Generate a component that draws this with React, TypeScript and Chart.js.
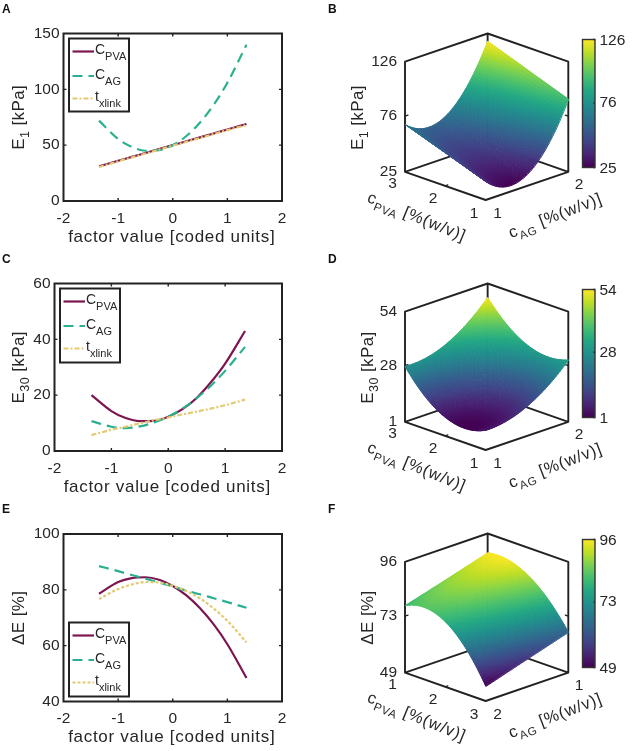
import React, { useEffect, useRef } from "react";
import { Chart, registerables } from "chart.js";

Chart.register(...registerables);

// ---------- data ----------
const factorX = [-1.35, -1, -0.75, -0.5, -0.25, 0, 0.25, 0.5, 0.75, 1, 1.35];

const e1Pva = [31, 36, 39.5, 43, 46.5, 50, 53.5, 57, 60.5, 64, 69];
const e1Ag = [72, 55.5, 48.4, 45, 45.6, 50, 58.2, 70.3, 86.2, 105.9, 140];
const e1Xlink = [30.5, 35.5, 39, 42.5, 46, 49.5, 53, 56.5, 60, 63.5, 68];

const e30Pva = [20, 14.3, 11.8, 10.7, 10.8, 12.3, 15, 19, 24.6, 31.3, 43];
const e30Ag = [10.7, 8.7, 8.2, 8.8, 10.2, 12.3, 15.2, 18.9, 23.4, 28.7, 37.3];
const e30Xlink = [5.7, 7.6, 8.7, 9.9, 11, 12, 13.1, 14.1, 15.2, 16.4, 18.4];

const dePva = [78.6, 82.8, 84.2, 84.5, 83.6, 81.4, 78, 73.4, 67.6, 60.5, 48.4];
const deAg = [88.5, 86.7, 85.3, 84, 82.6, 81.2, 79.7, 78.4, 77, 75.6, 73.6];
const deXlink = [76.7, 80.3, 81.9, 82.8, 82.6, 81.4, 79.6, 76.9, 73.3, 68.9, 61.2];

const xTicks = [-2, -1, 0, 1, 2];
const e1YTicks = [0, 50, 100, 150];
const e30YTicks = [0, 20, 40, 60];
const deYTicks = [40, 60, 80, 100];

// surface heights: rows = front corner to left corner, columns = front corner to right corner
const e1Surface = [
  [42, 35.6, 91.7],
  [55.3, 49.7, 105.3],
  [68.4, 63.8, 119],
];
const e30Surface = [
  [10.5, 15.3, 30.8],
  [9.9, 14.5, 30.9],
  [27.7, 31.7, 47.3],
];
const deSurface = [
  [55.3, 60.8, 66.2],
  [76.6, 80.5, 84.3],
  [77.4, 82.5, 87.8],
];

const e1ZTicks = [25, 76, 126];
const e30ZTicks = [1, 28, 54];
const deZTicks = [49, 73, 96];
const pvaTicksAB = ["3", "2", "1"];
const agTicksAB = ["1", "2"];
const pvaTicksF = ["1", "2", "3"];
const agTicksF = ["2", "1"];

const viridis = [
  [68, 1, 84], [72, 35, 116], [64, 67, 135], [52, 94, 141], [41, 120, 142],
  [32, 144, 140], [34, 167, 132], [68, 190, 112], [121, 209, 81], [189, 222, 38], [253, 231, 37],
];

// ---------- styles ----------
const FONT = '"Liberation Sans", Arial, sans-serif';
const INK = "#262626";
const PVA_COLOR = "#7d1650";
const AG_COLOR = "#2bb08f";
const XLINK_COLOR = "#e3c96f";
const AG_DASH = [10, 6];

type Part = { t: string; sub?: boolean };

function drawRich(
  ctx: any, parts: Part[], cx: number, cy: number, angle: number, size: number, subSize: number,
  align = "center", spacing = 0, subDrop = 0.3,
) {
  ctx.save();
  ctx.translate(cx, cy);
  ctx.rotate(angle);
  ctx.textBaseline = "alphabetic";
  ctx.textAlign = "left";
  ctx.fillStyle = INK;
  ctx.letterSpacing = `${spacing}px`;
  let total = 0;
  const widths = parts.map((p) => {
    ctx.font = `${p.sub ? subSize : size}px ${FONT}`;
    const w = ctx.measureText(p.t).width;
    total += w;
    return w;
  });
  let x = align === "center" ? -total / 2 : 0;
  const base = size * 0.36;
  parts.forEach((p, i) => {
    ctx.font = `${p.sub ? subSize : size}px ${FONT}`;
    ctx.fillText(p.t, x, base + (p.sub ? size * subDrop : 0));
    x += widths[i];
  });
  ctx.restore();
}

function panelLetter(ctx: any, letter: string, x: number) {
  ctx.save();
  ctx.font = `bold 12px ${FONT}`;
  ctx.fillStyle = "#111";
  ctx.textAlign = "left";
  ctx.textBaseline = "alphabetic";
  ctx.fillText(letter, x, 13);
  ctx.restore();
}

// ---------- line panels ----------
type LinePanel = {
  letter: string;
  pva: number[];
  ag: number[];
  xlink: number[];
  xlinkDash: number[];
  yMin: number;
  yMax: number;
  yTicks: number[];
  yTitle: Part[];
  area: { left: number; top: number; bottom: number };
  legend: { left: number; top: number; right: number; bottom: number };
};

const linePanels: LinePanel[] = [
  {
    letter: "A", pva: e1Pva, ag: e1Ag, xlink: e1Xlink, xlinkDash: [5, 2, 2, 2],
    yMin: 0, yMax: 150, yTicks: e1YTicks,
    yTitle: [{ t: "E" }, { t: "1", sub: true }, { t: " [kPa]" }],
    area: { left: 63.5, top: 33.5, bottom: 201 },
    legend: { left: 69, top: 38.5, right: 129, bottom: 111.5 },
  },
  {
    letter: "C", pva: e30Pva, ag: e30Ag, xlink: e30Xlink, xlinkDash: [5, 2, 2, 2],
    yMin: 0, yMax: 60, yTicks: e30YTicks,
    yTitle: [{ t: "E" }, { t: "30", sub: true }, { t: " [kPa]" }],
    area: { left: 54.5, top: 33.5, bottom: 201 },
    legend: { left: 60, top: 38.5, right: 120, bottom: 112.5 },
  },
  {
    letter: "E", pva: dePva, ag: deAg, xlink: deXlink, xlinkDash: [3, 2],
    yMin: 40, yMax: 100, yTicks: deYTicks,
    yTitle: [{ t: "\u0394E [%]" }],
    area: { left: 63.5, top: 34, bottom: 201.5 },
    legend: { left: 69, top: 122.5, right: 129, bottom: 196.5 },
  },
];

function lineChart(canvas: HTMLCanvasElement, p: LinePanel) {
  const series = (ys: number[]) => ys.map((y, i) => ({ x: factorX[i], y }));
  const framePlugin = {
    id: "frame",
    afterDatasetsDraw(chart: any) {
      const { ctx, chartArea: a, scales } = chart;
      ctx.save();
      ctx.strokeStyle = "#222";
      ctx.lineWidth = 2;
      ctx.strokeRect(a.left, a.top, a.right - a.left, a.bottom - a.top);
      ctx.lineWidth = 1.4;
      ctx.beginPath();
      xTicks.slice(1, -1).forEach((t) => {
        const x = scales.x.getPixelForValue(t);
        ctx.moveTo(x, a.bottom); ctx.lineTo(x, a.bottom - 3);
        ctx.moveTo(x, a.top); ctx.lineTo(x, a.top + 3);
      });
      p.yTicks.slice(1, -1).forEach((t) => {
        const y = scales.y.getPixelForValue(t);
        ctx.moveTo(a.left, y); ctx.lineTo(a.left + 3, y);
        ctx.moveTo(a.right, y); ctx.lineTo(a.right - 3, y);
      });
      ctx.stroke();

      // legend
      const l = p.legend;
      ctx.fillStyle = "#fff";
      ctx.fillRect(l.left, l.top, l.right - l.left, l.bottom - l.top);
      ctx.lineWidth = 2;
      ctx.strokeRect(l.left, l.top, l.right - l.left, l.bottom - l.top);
      const rows: [string, number[], Part[], number][] = [
        [PVA_COLOR, [], [{ t: "C" }, { t: "PVA", sub: true }], 13],
        [AG_COLOR, AG_DASH, [{ t: "C" }, { t: "AG", sub: true }], 37.5],
        [XLINK_COLOR, p.xlinkDash, [{ t: "t" }, { t: "xlink", sub: true }], 60],
      ];
      rows.forEach(([color, dash, text, dy]) => {
        const y = l.top + dy;
        ctx.save();
        ctx.strokeStyle = color;
        ctx.lineWidth = 2.2;
        ctx.setLineDash(dash);
        ctx.beginPath();
        ctx.moveTo(l.left + 3.5, y);
        ctx.lineTo(l.left + 25, y);
        ctx.stroke();
        ctx.restore();
        drawRich(ctx, text, l.left + 26, y - 2.5, 0, 14, 11, "left", 0, 0.45);
      });
      ctx.restore();

      drawRich(ctx, p.yTitle, 18, (a.top + a.bottom) / 2, -Math.PI / 2, 17, 12.5, "center", 0.4);
      drawRich(ctx, [{ t: "factor value [coded units]" }], (a.left + a.right) / 2 - 1, 235.6, 0, 17, 12, "center", 0.7);
      panelLetter(ctx, p.letter, 2);
    },
  };
  return new Chart(canvas, {
    type: "line",
    data: {
      datasets: [
        { label: "cPVA", data: series(p.pva), borderColor: PVA_COLOR, borderWidth: 2.2, pointRadius: 0, cubicInterpolationMode: "monotone", order: 3 },
        { label: "cAG", data: series(p.ag), borderColor: AG_COLOR, borderWidth: 2.2, borderDash: AG_DASH, pointRadius: 0, cubicInterpolationMode: "monotone", order: 2 },
        { label: "txlink", data: series(p.xlink), borderColor: XLINK_COLOR, borderWidth: 2.2, borderDash: p.xlinkDash, pointRadius: 0, cubicInterpolationMode: "monotone", order: 1 },
      ],
    },
    options: {
      animation: false,
      responsive: false,
      layout: { padding: { left: 0, top: p.area.top, right: 319 - 282, bottom: 0 } },
      plugins: { legend: { display: false }, tooltip: { enabled: false } },
      scales: {
        x: {
          type: "linear", min: -2, max: 2,
          grid: { display: false, drawTicks: false },
          border: { display: false },
          afterFit: (s: any) => { s.height = 250 - p.area.bottom; },
          afterBuildTicks: (s: any) => { s.ticks = xTicks.map((value) => ({ value })); },
          ticks: { color: INK, font: { family: FONT, size: 15.5 }, padding: 8, maxRotation: 0, autoSkip: false },
        },
        y: {
          type: "linear", min: p.yMin, max: p.yMax,
          grid: { display: false, drawTicks: false },
          border: { display: false },
          afterFit: (s: any) => { s.width = p.area.left; },
          afterBuildTicks: (s: any) => { s.ticks = p.yTicks.map((value) => ({ value })); },
          ticks: { color: INK, font: { family: FONT, size: 15.5 }, padding: 4, autoSkip: false },
        },
      },
    },
    plugins: [framePlugin],
  } as any);
}

// ---------- surface panels ----------
const SKEW = 0.976;
const FLOOR = 0.256;
const SUB = 60;

type SurfacePanel = {
  letter: string;
  grid: number[][];
  zTicks: number[];
  pvaTicks: string[];
  agTicks: string[];
  zTitle: Part[];
  zTitleX: number;
  top: number;
  bottom: number;
};

const surfacePanels: SurfacePanel[] = [
  {
    letter: "B", grid: e1Surface, zTicks: e1ZTicks, pvaTicks: pvaTicksAB, agTicks: agTicksAB,
    zTitle: [{ t: "E" }, { t: "1", sub: true }, { t: " [kPa]" }], zTitleX: 38, top: 33.5, bottom: 200,
  },
  {
    letter: "D", grid: e30Surface, zTicks: e30ZTicks, pvaTicks: pvaTicksAB, agTicks: agTicksAB,
    zTitle: [{ t: "E" }, { t: "30", sub: true }, { t: " [kPa]" }], zTitleX: 47.5, top: 33.5, bottom: 200,
  },
  {
    letter: "F", grid: deSurface, zTicks: deZTicks, pvaTicks: pvaTicksF, agTicks: agTicksF,
    zTitle: [{ t: "\u0394E [%]" }], zTitleX: 47.5, top: 33.5, bottom: 201,
  },
];

function viridisColor(t: number) {
  const c = Math.max(0, Math.min(1, t)) * (viridis.length - 1);
  const i = Math.min(viridis.length - 2, Math.floor(c));
  const f = c - i;
  const m = (k: number) => Math.round(viridis[i][k] + (viridis[i + 1][k] - viridis[i][k]) * f);
  return `rgb(${m(0)},${m(1)},${m(2)})`;
}

function surfaceChart(canvas: HTMLCanvasElement, p: SurfacePanel) {
  const zMin = p.zTicks[0];
  const zMax = p.zTicks[2];
  const norm = (v: number) => (v - zMin) / (zMax - zMin);
  const projectX = (u: number, v: number) => v - SKEW * u;
  const projectY = (u: number, v: number, z: number) => (u + v) * FLOOR + z;
  const basis = (t: number) => [2 * (t - 0.5) * (t - 1), -4 * t * (t - 1), 2 * t * (t - 0.5)];
  const height = (u: number, v: number) => {
    const bu = basis(u);
    const bv = basis(v);
    let s = 0;
    for (let i = 0; i < 3; i++) for (let j = 0; j < 3; j++) s += bu[i] * bv[j] * p.grid[i][j];
    return s;
  };

  // the colours run over the range of the surface itself
  let hMin = Infinity;
  let hMax = -Infinity;
  for (let i = 0; i <= SUB; i++) {
    for (let j = 0; j <= SUB; j++) {
      const h = height(i / SUB, j / SUB);
      hMin = Math.min(hMin, h);
      hMax = Math.max(hMax, h);
    }
  }

  const cloud: { x: number; y: number }[] = [];
  p.grid.forEach((row, i) => row.forEach((val, j) => {
    cloud.push({ x: projectX(i / 2, j / 2), y: projectY(i / 2, j / 2, norm(val)) });
  }));

  const plugin = {
    id: "surface",
    beforeDatasetsDraw(chart: any) {
      const { ctx, scales } = chart;
      const P = (u: number, v: number, z: number): [number, number] => [
        scales.x.getPixelForValue(projectX(u, v)),
        scales.y.getPixelForValue(projectY(u, v, z)),
      ];
      const seg = (a: [number, number], b: [number, number]) => { ctx.moveTo(a[0], a[1]); ctx.lineTo(b[0], b[1]); };

      ctx.save();
      ctx.strokeStyle = "#222";
      ctx.lineWidth = 1.9;
      ctx.lineCap = "round";
      ctx.beginPath();
      seg(P(1, 0, 0), P(0, 0, 0)); seg(P(0, 0, 0), P(0, 1, 0));
      seg(P(1, 0, 0), P(1, 1, 0)); seg(P(0, 1, 0), P(1, 1, 0));
      seg(P(1, 0, 0), P(1, 0, 1)); seg(P(0, 1, 0), P(0, 1, 1)); seg(P(1, 1, 0), P(1, 1, 1));
      seg(P(1, 0, 1), P(1, 1, 1)); seg(P(0, 1, 1), P(1, 1, 1));
      ctx.stroke();
      ctx.lineWidth = 1.3;
      ctx.beginPath();
      const zMid = norm(p.zTicks[1]);
      const lz = P(1, 0, zMid);
      seg(lz, [lz[0] + 3, lz[1] - 1]);
      const rz = P(0, 1, zMid);
      seg(rz, [rz[0] - 3, rz[1] - 1]);
      const m1 = P(0.5, 0, 0);
      seg(m1, [m1[0] + 2.5, m1[1] - 1]);
      ctx.stroke();

      // surface, painted from the back corner to the front corner
      ctx.lineJoin = "round";
      ctx.lineWidth = 1;
      for (let i = SUB - 1; i >= 0; i--) {
        for (let j = SUB - 1; j >= 0; j--) {
          const u0 = i / SUB, u1 = (i + 1) / SUB, v0 = j / SUB, v1 = (j + 1) / SUB;
          const a = P(u0, v0, norm(height(u0, v0)));
          const b = P(u1, v0, norm(height(u1, v0)));
          const c = P(u1, v1, norm(height(u1, v1)));
          const d = P(u0, v1, norm(height(u0, v1)));
          const col = viridisColor((height((u0 + u1) / 2, (v0 + v1) / 2) - hMin) / (hMax - hMin));
          ctx.fillStyle = col;
          ctx.strokeStyle = col;
          ctx.beginPath();
          ctx.moveTo(a[0], a[1]); ctx.lineTo(b[0], b[1]); ctx.lineTo(c[0], c[1]); ctx.lineTo(d[0], d[1]);
          ctx.closePath();
          ctx.fill();
          ctx.stroke();
        }
      }
      ctx.restore();
    },
    afterDatasetsDraw(chart: any) {
      const { ctx, scales } = chart;
      const leftX = scales.x.getPixelForValue(-SKEW);
      // z ticks
      ctx.save();
      ctx.font = `15.5px ${FONT}`;
      ctx.fillStyle = INK;
      ctx.textAlign = "right";
      ctx.textBaseline = "middle";
      p.zTicks.forEach((t) => {
        ctx.fillText(String(t), leftX - 8, scales.y.getPixelForValue(FLOOR + norm(t)));
      });
      // floor ticks
      ctx.textAlign = "center";
      const pvaPos = [[73.5, 184], [114, 198.5], [155, 213.5]];
      p.pvaTicks.forEach((t, i) => ctx.fillText(t, pvaPos[i][0], pvaPos[i][1] + (p.letter === "F" ? 1 : 0)));
      const agPos = [[178.5, 213.5], [260, 184.5]];
      p.agTicks.forEach((t, i) => ctx.fillText(t, agPos[i][0], agPos[i][1] + (p.letter === "F" ? 1 : 0)));

      // colour bar
      const bl = 263.5, bt = 39.5, bw = 12.5, bh = 128;
      const g = ctx.createLinearGradient(0, bt + bh, 0, bt);
      viridis.forEach((c, i) => g.addColorStop(i / (viridis.length - 1), `rgb(${c[0]},${c[1]},${c[2]})`));
      ctx.fillStyle = g;
      ctx.fillRect(bl, bt, bw, bh);
      ctx.strokeStyle = "#333";
      ctx.lineWidth = 1.4;
      ctx.strokeRect(bl, bt, bw, bh);
      ctx.fillStyle = INK;
      ctx.textAlign = "left";
      p.zTicks.forEach((t) => {
        const y = bt + bh * (1 - norm(t));
        ctx.fillText(String(t), bl + bw + 4.5, y + (t === p.zTicks[1] ? 0 : 1));
        ctx.beginPath();
        ctx.moveTo(bl + bw, y);
        ctx.lineTo(bl + bw - 2, y);
        ctx.stroke();
      });
      ctx.restore();

      drawRich(ctx, p.zTitle, p.zTitleX, 117.5, -Math.PI / 2, 17, 12.5, "center", 0.4);
      drawRich(ctx, [{ t: "c" }, { t: "PVA", sub: true }, { t: " [%(w/v)]" }], 98, 216, 0.39, 16.5, 11.5, "center", 0.8);
      drawRich(ctx, [{ t: "c" }, { t: "AG", sub: true }, { t: " [%(w/v)]" }], 236, 215, -0.365, 16.5, 11.5, "center", 0.8);
      panelLetter(ctx, p.letter, 9);
    },
  };

  return new Chart(canvas, {
    type: "scatter",
    data: { datasets: [{ label: p.letter, data: cloud, pointRadius: 0, showLine: false }] },
    options: {
      animation: false,
      responsive: false,
      layout: { padding: { left: 86, right: 319 - 249.3, top: p.top, bottom: 250 - p.bottom } },
      plugins: { legend: { display: false }, tooltip: { enabled: false } },
      scales: {
        x: { type: "linear", min: -SKEW, max: 1, display: false },
        y: { type: "linear", min: 0, max: 2 * FLOOR + 1, display: false },
      },
    },
    plugins: [plugin],
  } as any);
}

// ---------- component ----------
function Panel({ make, x, y }: { make: (c: HTMLCanvasElement) => any; x: number; y: number }) {
  const ref = useRef<HTMLCanvasElement>(null);
  useEffect(() => {
    const chart = make(ref.current as HTMLCanvasElement);
    return () => chart.destroy();
  }, []);
  return <canvas ref={ref} width={319} height={250} style={{ position: "absolute", left: x, top: y, width: 319, height: 250 }} />;
}

export default function App() {
  return (
    <div style={{ position: "absolute", left: 0, top: 0, width: 638, height: 751, background: "#fff" }}>
      {linePanels.map((p, i) => (
        <Panel key={p.letter} make={(c) => lineChart(c, p)} x={0} y={i * 250} />
      ))}
      {surfacePanels.map((p, i) => (
        <Panel key={p.letter} make={(c) => surfaceChart(c, p)} x={319} y={i * 250} />
      ))}
    </div>
  );
}
